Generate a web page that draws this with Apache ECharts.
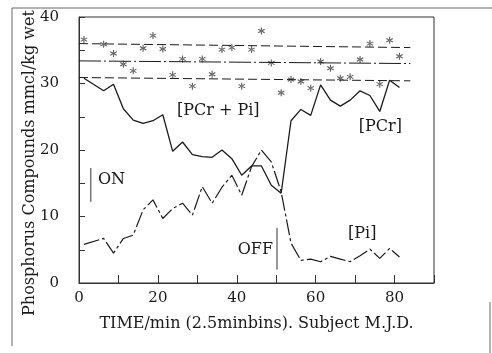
<!DOCTYPE html>
<html>
<head>
<meta charset="utf-8">
<script src="https://cdn.jsdelivr.net/npm/echarts@6/dist/echarts.min.js"></script>
<style>
  html, body { margin: 0; padding: 0; background: #fff; }
  #chart { width: 492px; height: 353px; }
</style>
</head>
<body>
<div id="chart"></div>
<script>
// time bins (min), 2.5 min bins
var times = [1.25, 6.25, 8.75, 11.25, 13.75, 16.25, 18.75, 21.25, 23.75, 26.25, 28.75,
  31.25, 33.75, 36.25, 38.75, 41.25, 43.75, 46.25, 48.75, 51.25, 53.75, 56.25, 58.75,
  61.25, 63.75, 66.25, 68.75, 71.25, 73.75, 76.25, 78.75, 81.25];
// [PCr]
var pcr = [30.8, 28.9, 29.9, 26.2, 24.5, 24.0, 24.4, 25.3, 19.8, 21.2, 19.3,
  19.0, 18.9, 20.0, 18.7, 16.2, 17.6, 17.6, 14.7, 13.5, 24.4, 26.1, 25.2,
  29.8, 27.5, 26.6, 27.5, 28.9, 28.2, 25.8, 30.5, 29.4];
// [Pi]
var pi = [5.8, 6.7, 4.5, 6.7, 7.2, 11.0, 12.5, 9.7, 11.2, 12.0, 10.2,
  14.5, 12.0, 14.4, 16.2, 13.2, 17.5, 20.0, 18.2, 13.7, 6.0, 3.4, 3.6,
  3.2, 4.0, 3.6, 3.2, 4.1, 5.1, 3.7, 5.2, 3.9];
// [PCr+Pi] asterisks
var total = [36.6, 35.9, 34.5, 32.9, 31.9, 35.3, 37.2, 35.2, 31.3, 33.7, 29.6,
  33.7, 31.4, 35.1, 35.4, 29.6, 35.1, 37.9, 33.1, 28.6, 30.6, 30.3, 29.3,
  33.3, 32.3, 30.8, 31.0, 33.6, 36.0, 29.9, 36.5, 34.1];
// mean and bands of [PCr+Pi] (start, end)
var bandX = [0, 84];
var upperBand = [36.0, 35.4];
var meanLine = [33.4, 33.0];
var lowerBand = [30.9, 30.4];

var FONT = 'DejaVu Serif';
var INK = '#1a1a1a';

function pairs(xs, ys) {
  return xs.map(function (x, i) { return [x, ys[i]]; });
}

// asterisk symbol
var star = 'path://M0.85 0L1.15 0L1.15 2L0.85 2Z' +
  'M1.791 1.63L1.941 1.37L0.209 0.37L0.059 0.63Z' +
  'M0.059 1.37L0.209 1.63L1.941 0.63L1.791 0.37Z';

var myChart = echarts.init(document.getElementById('chart'), null, { renderer: 'canvas' });

var option = {
  animation: false,
  backgroundColor: '#fff',
  grid: {
    left: 79, right: 58, top: 17, bottom: 70, outerBoundsMode: 'none',
    show: true, borderColor: '#333', borderWidth: 1
  },
  xAxis: {
    type: 'value', min: 0, max: 90, interval: 10,
    name: 'TIME/min (2.5minbins). Subject M.J.D.',
    nameLocation: 'middle', nameGap: 33,
    nameTextStyle: { fontFamily: FONT, fontSize: 16, color: INK },
    axisLine: { lineStyle: { color: '#333', width: 1 } },
    axisTick: { inside: true, length: 8, lineStyle: { color: '#333' } },
    axisLabel: {
      fontFamily: FONT, fontSize: 15, color: INK, margin: 8,
      formatter: function (v) { return (v % 20 === 0 && v <= 80) ? String(v) : ''; }
    },
    splitLine: { show: false }
  },
  yAxis: {
    type: 'value', min: 0, max: 40, interval: 5,
    axisLine: { show: true, lineStyle: { color: '#333', width: 1 } },
    axisTick: { show: true, inside: true, length: 6, lineStyle: { color: '#333' } },
    axisLabel: {
      fontFamily: FONT, fontSize: 15, color: INK, margin: 20,
      formatter: function (v) { return v % 10 === 0 ? String(v) : ''; }
    },
    splitLine: { show: false }
  },
  series: [
    {
      type: 'line', data: pairs(bandX, upperBand), symbol: 'none',
      lineStyle: { color: INK, width: 1, type: [9, 4] }
    },
    {
      type: 'line', data: pairs(bandX, meanLine), symbol: 'none',
      lineStyle: { color: INK, width: 1, type: [22, 3, 2, 3] }
    },
    {
      type: 'line', data: pairs(bandX, lowerBand), symbol: 'none',
      lineStyle: { color: INK, width: 1, type: [9, 4] }
    },
    {
      name: '[PCr]', type: 'line', data: pairs(times, pcr), symbol: 'none',
      lineStyle: { color: INK, width: 1.3 }
    },
    {
      name: '[Pi]', type: 'line', data: pairs(times, pi), symbol: 'none',
      lineStyle: { color: INK, width: 1.2, type: [16, 3, 3, 3] }
    },
    {
      name: '[PCr+Pi]', type: 'scatter', data: pairs(times, total),
      symbol: star, symbolSize: 7,
      itemStyle: { color: '#333' }
    }
  ]
};

myChart.setOption(option);

// annotations placed in data coordinates
function px(x, y) { return myChart.convertToPixel({ gridIndex: 0 }, [x, y]); }
function label(text, x, y, align) {
  var p = px(x, y);
  return {
    type: 'text', x: p[0], y: p[1],
    style: { text: text, fontFamily: FONT, fontSize: 16, fill: INK, align: align || 'center', verticalAlign: 'middle' }
  };
}
function vbar(x, y0, y1) {
  var a = px(x, y0), b = px(x, y1);
  return { type: 'line', shape: { x1: a[0], y1: a[1], x2: b[0], y2: b[1] }, style: { stroke: '#333', lineWidth: 1 } };
}

myChart.setOption({
  graphic: [
    // y axis title (sits a little below the grid middle in the original)
    {
      type: 'text', x: 30, y: 163, rotation: Math.PI / 2,
      style: {
        text: 'Phosphorus Compounds mmcl/kg wet', fontFamily: FONT, fontSize: 16,
        fill: INK, align: 'center', verticalAlign: 'middle'
      }
    },
    label('[PCr + Pi]', 35.3, 25.9),
    label('[PCr]', 76.4, 23.5),
    label('[Pi]', 71.8, 7.4),
    label('ON', 4.8, 15.5, 'left'),
    label('OFF', 49.2, 5.0, 'right'),
    vbar(3.0, 17.3, 12.2),
    vbar(50.2, 8.3, 2.0),
    // scan border round the figure
    { type: 'line', shape: { x1: 12, y1: 8, x2: 492, y2: 8 }, style: { stroke: '#666', lineWidth: 1 } },
    { type: 'line', shape: { x1: 12, y1: 8, x2: 12, y2: 346 }, style: { stroke: '#666', lineWidth: 1 } },
    { type: 'line', shape: { x1: 490, y1: 302, x2: 490, y2: 353 }, style: { stroke: '#666', lineWidth: 1 } }
  ]
});

window.onresize = function () { myChart.resize(); };
</script>
</body>
</html>
